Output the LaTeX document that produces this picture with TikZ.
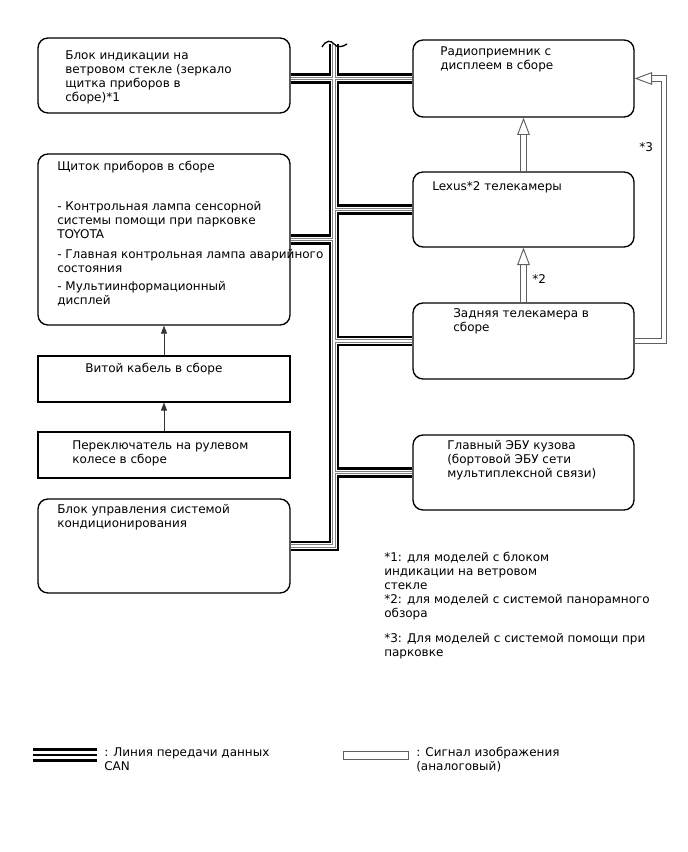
\documentclass[tikz,border=0pt]{standalone}
\usepackage{fontspec}
\setmainfont{DejaVu Sans}
\usetikzlibrary{arrows.meta}
\tikzset{
  box/.style={draw,line width=1pt,rounded corners=7.5pt,inner sep=0pt},
  sqbox/.style={draw,line width=0.8pt,inner sep=0pt},
  lwide/.style={minimum width=189pt},
  rwide/.style={minimum width=165.75pt},
  txt/.style={anchor=north west,yshift=7.3pt,align=left,inner sep=0pt,font=\fontsize{9pt}{10.5pt}\selectfont,
    execute at begin node=\rule{0pt}{8.4pt}},
  sig/.style={draw=gray!75!black,double=white,double distance=3.2pt,line width=0.7pt},
  sigtip/.style={-{Triangle[open,fill=white,line width=0.7pt,length=13pt,width=9.5pt]}},
}

\begin{document}
\begin{tikzpicture}[x=0.75pt,y=-0.75pt]
\useasboundingbox (0,0) rectangle (688,852);

% left column
\node[box,lwide,minimum height=56.25pt] (hud) at (164,75.5) {};
\node[box,lwide,minimum height=128.25pt] (cluster) at (164,239.5) {};
\node[sqbox,lwide,minimum height=34.5pt] (spiral) at (164,379) {};
\node[sqbox,lwide,minimum height=34.5pt] (switch) at (164,455) {};
\node[box,lwide,minimum height=70.5pt] (ac) at (164,546) {};

% right column
\node[box,rwide,minimum height=57.75pt] (radio) at (523.5,78.5) {};
\node[box,rwide,minimum height=56.25pt] (lexus) at (523.5,209.5) {};
\node[box,rwide,minimum height=57pt] (rear) at (523.5,341) {};
\node[box,rwide,minimum height=56.25pt] (bcm) at (523.5,472.5) {};

% texts
\node[txt] (hud-t) at (65,60) {Блок индикации на\\ветровом стекле (зеркало\\щитка приборов в\\сборе)*1};
\node[txt] (cluster-t) at (57,170.5) {Щиток приборов в сборе\\[19.5pt]
  - Контрольная лампа сенсорной\\системы помощи при парковке\\TOYOTA\\[4.5pt]
  - Главная контрольная лампа аварийного\\состояния\\[3pt]
  - Мультиинформационный\\дисплей};
\node[txt] (spiral-t) at (85,371) {Витой кабель в сборе};
\node[txt] (switch-t) at (72,450) {Переключатель на рулевом\\колесе в сборе};
\node[txt] (ac-t) at (57,514) {Блок управления системой\\кондиционирования};
\node[txt] (radio-t) at (440,56) {Радиоприемник с\\дисплеем в сборе};
\node[txt] (lexus-t) at (432,189) {Lexus*2 телекамеры};
\node[txt] (rear-t) at (453,318) {Задняя телекамера в\\сборе};
\node[txt] (bcm-t) at (447,450) {Главный ЭБУ кузова\\(бортовой ЭБУ сети\\мультиплексной связи)};

% CAN bus
\coordinate (top) at (334,44);
\foreach \w/\c in {7.8pt/black,4.1pt/white,2.6pt/gray,1.1pt/white}
  \draw[line width=\w,\c] (top) -- (ac.east -| top) -- (ac.east)
    (hud.east |- radio.west) -- (radio.west)
    (cluster.east) -- (cluster.east -| top)
    (lexus.west -| top) -- (lexus.west)
    (rear.west -| top) -- (rear.west)
    (bcm.west -| top) -- (bcm.west);
\draw[line width=1pt] ([shift={(-12,3)}]top) .. controls ([shift={(-8,-4)}]top) and ([shift={(-3,-4)}]top) .. (top)
  .. controls ([shift={(3,4)}]top) and ([shift={(9,3)}]top) .. ([shift={(13,0)}]top);

% wire arrows
\foreach \y\z in {switch/spiral,spiral/cluster}
  \draw[line width=0.5pt,black!80,-{Triangle[length=6pt,width=4.5pt]}] (\y.north) -- (\z.south);

% image signal
\draw[sig,sigtip] (lexus.north) -- (radio.south);
\draw[sig,sigtip] (rear.north) -- (lexus.south);
\draw[sig,sigtip] (rear.east) -- ++(29.5,0) |- (radio.east);
\node[txt] (l2) at (532,282) {*2};
\node[txt] (l3) at (639,150) {*3};

% notes
\node[txt] (notes) at (384,562) {*1: для моделей с блоком\\индикации на ветровом\\стекле\\
  *2: для моделей с системой панорамного\\обзора\\[8pt]
  *3: Для моделей с системой помощи при\\парковке};

% legend
\coordinate (canA) at (33,755);
\coordinate (canB) at (97,755);
\foreach \w/\c in {10.2pt/black,6.4pt/white,1.9pt/black}
  \draw[line width=\w,\c] (canA) -- (canB);
\node[txt] (can-t) at (104,757) {: Линия передачи данных\\CAN};
\node[draw=gray!75!black,line width=0.7pt,minimum width=48.75pt,minimum height=6pt,inner sep=0pt] (sigleg) at (376,755) {};
\node[txt] (sig-t) at (416,757) {: Сигнал изображения\\(аналоговый)};
\end{tikzpicture}
\end{document}
